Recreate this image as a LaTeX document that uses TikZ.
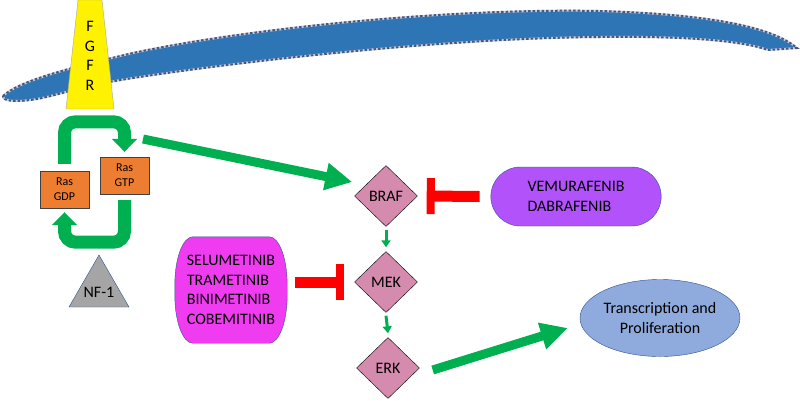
\documentclass[tikz,border=0pt]{standalone}
\usepackage{fontspec}
\setmainfont{Carlito}
\usetikzlibrary{arrows.meta,shapes.geometric,shapes.misc,backgrounds}

\definecolor{membrane}{RGB}{46,117,182}
\definecolor{memedge}{RGB}{70,88,128}
\definecolor{memlight}{RGB}{200,206,222}
\definecolor{rasorange}{RGB}{237,125,49}
\definecolor{kinase}{RGB}{213,139,173}
\definecolor{actgreen}{RGB}{0,176,80}
\definecolor{inhred}{RGB}{255,0,0}
\definecolor{rafdrug}{RGB}{178,82,250}
\definecolor{mekdrug}{RGB}{240,60,240}
\definecolor{outcome}{RGB}{143,170,220}
\definecolor{nfgray}{RGB}{165,165,165}
\definecolor{shapeedge}{RGB}{47,82,143}

\tikzset{
  every node/.style={font=\fontsize{16}{19.5}\selectfont},
  rasnode/.style={rectangle, draw=black!75, fill=rasorange, minimum width=49pt,
    minimum height=37pt, inner sep=0pt, align=center, font=\fontsize{12}{15}\selectfont},
  kinasenode/.style={diamond, draw=black, fill=kinase, minimum width=63pt,
    minimum height=61pt, inner sep=0pt},
  cyclearrow/.style={draw=actgreen, line width=13pt, rounded corners=11pt,
    -{Triangle[width=25pt,length=13pt]}},
  signal/.style={draw=actgreen, line width=9pt, -{Triangle[width=26pt,length=27pt]}},
  relay/.style={draw=actgreen, line width=3pt, -{Triangle[width=9pt,length=7pt]}},
  block/.style={draw=inhred, line width=11pt, -{Bar[width=36pt,line width=8pt]}},
}

\begin{document}
\begin{tikzpicture}[x=1pt,y=-1pt]
  \useasboundingbox (0,0) rectangle (800,400);

  % membrane
  \filldraw[fill=membrane, draw=memlight, line width=2pt,
    postaction={draw=memedge, line width=2pt, dash pattern=on 2.5pt off 2pt}]
    (3,96) .. controls (18,82) and (60,70) .. (133,53)
    .. controls (250,28) and (450,8) .. (600,11)
    .. controls (700,14) and (770,25) .. (797,48)
    -- (768,50)
    .. controls (740,40) and (680,36) .. (600,37)
    .. controls (450,38) and (250,60) .. (133,78)
    .. controls (80,86) and (50,98) .. (30,100)
    .. controls (15,102) and (2,101) .. cycle;

  % receptor
  \filldraw[draw=gray!70, fill=yellow] (78,0) -- (102,0) -- (114,109) -- (66,109) -- cycle;
  \node[align=center, inner sep=0pt] (fgfr) at (90,56) {F\\G\\F\\R};

  % Ras cycle
  \node[rasnode] (gdp) at (64.5,189.5) {Ras\\GDP};
  \node[rasnode] (gtp) at (124.5,175.5) {Ras\\GTP};
  \draw[cyclearrow] ([yshift=7pt]gdp.north) -- ++(0,-42) -| ([yshift=5pt]gtp.north);
  \draw[cyclearrow] ([yshift=-6pt]gtp.south) -- ++(0,42) -| ([yshift=-4pt]gdp.south);

  \filldraw[draw=shapeedge, fill=nfgray] (99,255) -- (129,307) -- (69,307) -- cycle;
  \node (nf) at (99,292) {NF-1};

  % MAPK cascade
  \node[kinasenode] (braf) at (386,196) {BRAF};
  \node[kinasenode] (mek) at (386,282) {MEK};
  \node[kinasenode] (erk) at (388,368) {ERK};

  % inhibitors
  \node[rounded rectangle, draw=shapeedge, fill=rafdrug, minimum width=177pt,
    minimum height=59pt, align=left] (vem) at (576,196.5) {VEMURAFENIB\\DABRAFENIB};
  \node[minimum width=112pt, minimum height=106pt, inner sep=0pt, align=left]
    (selu) at (231,290) {SELUMETINIB\\TRAMETINIB\\BINIMETINIB\\COBEMITINIB};
  \begin{scope}[on background layer]
    \filldraw[draw=shapeedge, fill=mekdrug]
      ([xshift=18pt]selu.north west) -- ([xshift=-18pt]selu.north east)
      arc[start angle=90, end angle=0, x radius=18pt, y radius=48pt]
      -- ([yshift=48pt]selu.south east)
      arc[start angle=0, end angle=-90, x radius=18pt, y radius=48pt]
      -- ([xshift=18pt]selu.south west)
      arc[start angle=270, end angle=180, x radius=18pt, y radius=48pt]
      -- ([yshift=-48pt]selu.north west)
      arc[start angle=180, end angle=90, x radius=18pt, y radius=48pt]
      -- cycle;
  \end{scope}

  \node[ellipse, draw=shapeedge, fill=outcome, minimum width=160pt, minimum height=77pt,
    inner sep=0pt, align=center] (tp) at (660,318) {Transcription and\\Proliferation};

  % connectors
  \coordinate (rasout) at (143,139);
  \draw[signal] (rasout) -- ([shift={(-2pt,14pt)}]braf.west);
  \draw[relay] ([yshift=-3pt]braf.south) -- ([yshift=4pt]mek.north);
  \draw[relay] ([yshift=-3pt]mek.south) -- ([yshift=4pt]erk.north);
  \draw[signal] ([shift={(13pt,-2pt)}]erk.east) -- ([shift={(-12pt,-10pt)}]tp.west);
  \draw[block] ([xshift=-11pt]vem.west) -- ([xshift=9pt]braf.east);
  \draw[block] ([xshift=8pt]selu.east |- mek.west) -- ([xshift=-10pt]mek.west);
\end{tikzpicture}
\end{document}
